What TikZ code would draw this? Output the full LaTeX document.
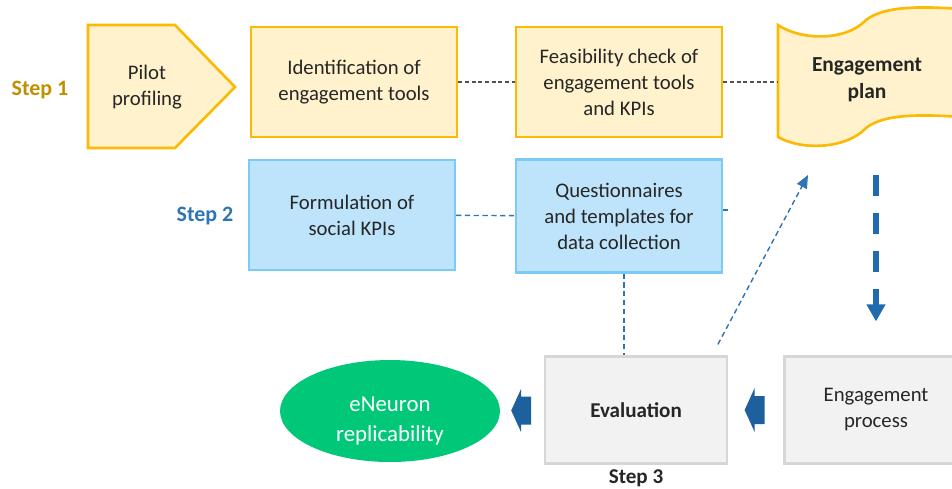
\documentclass[tikz,border=0pt]{standalone}
\usepackage{fontspec}
\setmainfont{Carlito}
\usetikzlibrary{shapes.geometric,arrows.meta,calc}

\definecolor{ylwfill}{HTML}{FFF2CC}
\definecolor{ylwline}{HTML}{FCBA05}
\definecolor{bluefill}{HTML}{BDE4FB}
\definecolor{blueline}{HTML}{7CCBF7}
\definecolor{grayfill}{HTML}{F2F2F2}
\definecolor{grayline}{HTML}{D6D6D6}
\definecolor{stepgold}{HTML}{BF9000}
\definecolor{stepblue}{HTML}{2E75B6}
\definecolor{flowblue}{HTML}{1F6BAE}
\definecolor{leaf}{HTML}{00C878}
\definecolor{ink}{HTML}{262626}

\tikzset{
  txt/.style={font=\fontsize{11.8}{14.8}\selectfont, text=ink, align=center},
  ybox/.style={txt, draw=ylwline, fill=ylwfill, line width=1.5pt,
    minimum width=4.12cm, minimum height=2.2cm},
  bbox/.style={txt, draw=blueline, fill=bluefill, line width=1.3pt,
    minimum width=4.12cm, minimum height=2.2cm},
  gbox/.style={txt, draw=grayline, fill=grayfill, line width=1.3pt,
    minimum width=3.63cm, minimum height=2.14cm},
  steplabel/.style={font=\fontsize{12.5}{14}\selectfont\bfseries},
  gdash/.style={draw=ink!80, line width=0.6pt, dash pattern=on 2.2pt off 1.6pt},
  bdash/.style={draw=stepblue, line width=0.8pt, dash pattern=on 3pt off 2pt},
  bigflow/.style={draw=flowblue, line width=3.4pt, dash pattern=on 0.42cm off 0.34cm,
    -{Triangle[length=0.34cm,width=0.36cm]}},
  blockarrow/.style={fill=flowblue!90!black},
}

\begin{document}
\begin{tikzpicture}[x=0.02cm,y=-0.02cm]
  \useasboundingbox (0,0) rectangle (952,488);

  % Step 1: yellow row
  \node[steplabel, text=stepgold] (step1) at (40,90) {Step 1};
  \draw[draw=ylwline, fill=ylwfill, line width=1.5pt]
    (88,25) -- (175,25) -- (235,87) -- (175,148) -- (88,148) -- cycle;
  \node[txt] (pilot) at (147,87) {Pilot\\profiling};
  \node[ybox] (ident) at (354,82) {Identification of\\engagement tools};
  \node[ybox] (feas) at (619,82) {Feasibility check of\\engagement tools\\and KPIs};

  % engagement plan (tape shape, runs off the right edge)
  \draw[draw=ylwline, fill=ylwfill, line width=1.5pt]
    (778,25) .. controls (800,40) and (845,42) .. (866,20)
    .. controls (885,5) and (925,6) .. (975,10) -- (975,118)
    .. controls (925,114) and (885,113) .. (866,128)
    .. controls (845,150) and (800,150) .. (778,137) -- cycle;
  \node[txt, font=\fontsize{12.2}{15.5}\selectfont\bfseries] (plan) at (867,80) {Engagement\\plan};
  \coordinate (planW) at (778,82);

  \draw[gdash] (ident) -- (feas);
  \draw[gdash] (feas) -- (planW);

  % Step 2: blue row
  \node[steplabel, text=stepblue] (step2) at (205,216) {Step 2};
  \node[bbox] (form) at (352,215) {Formulation of\\social KPIs};
  \node[bbox, minimum height=2.26cm] (quest) at (619,216) {Questionnaires\\and templates for\\data collection};

  \draw[bdash] (form) -- (quest);
  \draw[bdash] ([shift={(0,-6)}]quest.east) -- ++(5,0);

  % Step 3: gray row
  \node[gbox, font=\fontsize{12}{14.8}\selectfont\bfseries] (eval) at (636,410) {Evaluation};
  \node[gbox, minimum width=3.66cm] (proc) at (876,410) {Engagement\\process};
  \node[steplabel, text=ink, font=\fontsize{12}{14}\selectfont\bfseries] (step3) at (636,478) {Step 3};
  \node[ellipse, fill=leaf, minimum width=4.4cm, minimum height=2.04cm, inner sep=0pt] (repl) at (390,411) {};
  \node[font=\fontsize{13}{17}\selectfont, text=white, align=center] (repltxt) at (390,421)
    {eNeuron\\replicability};

  % links between the rows
  \coordinate (fbk) at (808,175);
  \coordinate (planfoot) at (876,175);
  \draw[bdash] ([shift={(5,0)}]quest.south) -- ([shift={(-12,0)}]eval.north);
  \draw[bdash, -{Triangle[length=0.26cm,width=0.22cm]}]
    ([shift={(-10,-11)}]eval.north east) -- (fbk);
  \draw[bigflow, shorten >=0.68cm] (planfoot) -- (proc.north);

  % block arrows
  \coordinate (a1) at ($(eval.east)!0.5!(proc.west)$);
  \coordinate (a2) at ($(repl.east)!0.5!(eval.west)$);
  \foreach \p in {a1,a2} {
    \fill[blockarrow] (\p) ++(-11,0) -- ++(10,-22) -- ++(0,8) -- ++(10,0)
      -- ++(0,28) -- ++(-10,0) -- ++(0,8) -- cycle;
  }
\end{tikzpicture}
\end{document}
